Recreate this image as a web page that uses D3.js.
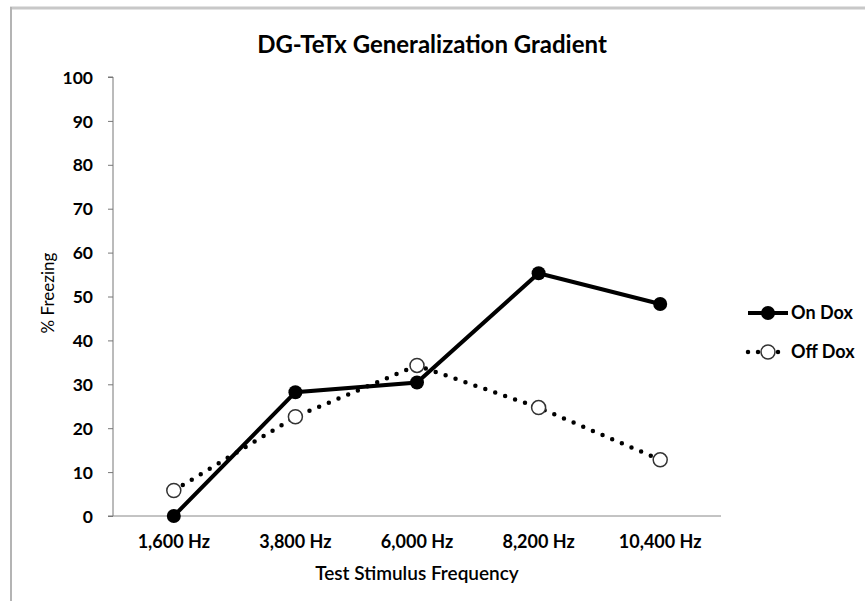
<!DOCTYPE html>
<html>
<head>
<meta charset="utf-8">
<script src="https://cdn.jsdelivr.net/npm/d3@7"></script>
<style>
  body { margin: 0; background: #fff; }
  text { font-family: Lato, "Open Sans", sans-serif; fill: #000; }
</style>
</head>
<body>
<div id="chart"></div>
<script>
var categories = ["1,600 Hz", "3,800 Hz", "6,000 Hz", "8,200 Hz", "10,400 Hz"];
var onDox = [0, 28.2, 30.4, 55.3, 48.3];
var offDox = [5.8, 22.6, 34.3, 24.7, 12.8];
var yTicks = [0, 10, 20, 30, 40, 50, 60, 70, 80, 90, 100];

var width = 865, height = 601;
var plotLeft = 113, plotRight = 721, plotTop = 77, plotBottom = 516;

var svg = d3.select("#chart").append("svg")
    .attr("width", width)
    .attr("height", height);

// frame lines of the original screenshot
svg.append("line")
    .attr("x1", 10).attr("x2", width)
    .attr("y1", 8).attr("y2", 8)
    .style("stroke", "#c8c8c8").style("stroke-width", 3);
svg.append("line")
    .attr("x1", 11).attr("x2", 11)
    .attr("y1", 7).attr("y2", height)
    .style("stroke", "#b4b4b4").style("stroke-width", 2);

var x = d3.scaleBand()
    .domain(categories)
    .range([plotLeft, plotRight]);

var y = d3.scaleLinear()
    .domain([0, 100])
    .range([plotBottom, plotTop]);

// y axis
var yAxis = svg.append("g")
    .attr("transform", "translate(" + plotLeft + ",0)")
    .call(d3.axisLeft(y).tickValues(yTicks).tickSize(5).tickPadding(15));
yAxis.select(".domain").attr("stroke", "#777").attr("d", "M-5," + plotTop + "H0V" + plotBottom + "H-5");
yAxis.selectAll(".tick line").attr("stroke", "#777");
yAxis.selectAll(".tick text")
    .style("font-size", "17.5px")
    .style("font-weight", "bold")
    .attr("dy", "0.35em");

// x axis
var xAxis = svg.append("g")
    .attr("transform", "translate(0," + plotBottom + ")")
    .call(d3.axisBottom(x).tickSize(0).tickPadding(19));
xAxis.select(".domain").attr("stroke", "#888").attr("d", "M" + plotLeft + ",0H" + plotRight);
xAxis.selectAll(".tick text")
    .style("font-size", "18px")
    .style("font-weight", "bold");

// titles
svg.append("text")
    .attr("x", 432)
    .attr("y", 53)
    .attr("text-anchor", "middle")
    .style("font-size", "24px")
    .style("font-weight", "bold")
    .text("DG-TeTx Generalization Gradient");

svg.append("text")
    .attr("x", 417)
    .attr("y", 580)
    .attr("text-anchor", "middle")
    .style("font-size", "19px")
    .style("font-weight", "600")
    .text("Test Stimulus Frequency");

svg.append("text")
    .attr("transform", "translate(54,293) rotate(-90)")
    .attr("text-anchor", "middle")
    .style("font-size", "17px")
    .text("% Freezing");

var cx = function(d, i) { return x(categories[i]) + x.bandwidth() / 2; };

var line = d3.line()
    .x(function(d, i) { return cx(d, i); })
    .y(function(d) { return y(d); });

// Off Dox (dotted, open circles)
svg.append("path")
    .datum(offDox)
    .attr("d", line)
    .attr("fill", "none")
    .attr("stroke", "#000")
    .attr("stroke-width", 4.5)
    .attr("stroke-linecap", "round")
    .attr("stroke-dasharray", "0 10.5");

// On Dox (solid, filled circles)
svg.append("path")
    .datum(onDox)
    .attr("d", line)
    .attr("fill", "none")
    .attr("stroke", "#000")
    .attr("stroke-width", 4);

svg.selectAll(".off")
    .data(offDox)
    .enter().append("circle")
    .attr("class", "off")
    .attr("cx", cx)
    .attr("cy", function(d) { return y(d); })
    .attr("r", 7)
    .attr("fill", "#fff")
    .attr("stroke", "#333")
    .attr("stroke-width", 1.5);

svg.selectAll(".on")
    .data(onDox)
    .enter().append("circle")
    .attr("class", "on")
    .attr("cx", cx)
    .attr("cy", function(d) { return y(d); })
    .attr("r", 7)
    .attr("fill", "#000");

// legend
var legend = svg.append("g").attr("transform", "translate(748,313)");
legend.append("line")
    .attr("x1", 0).attr("x2", 40)
    .attr("stroke", "#000").attr("stroke-width", 4);
legend.append("circle").attr("cx", 20).attr("r", 7).attr("fill", "#000");
legend.append("text")
    .attr("x", 43).attr("dy", "0.35em")
    .style("font-size", "18px").style("font-weight", "bold")
    .text("On Dox");

var leg2 = svg.append("g").attr("transform", "translate(748,352)");
leg2.append("line")
    .attr("x1", 0).attr("x2", 40)
    .attr("stroke", "#000").attr("stroke-width", 4.5)
    .attr("stroke-linecap", "round")
    .attr("stroke-dasharray", "0 10");
leg2.append("circle").attr("cx", 20).attr("r", 7)
    .attr("fill", "#fff").attr("stroke", "#333").attr("stroke-width", 1.5);
leg2.append("text")
    .attr("x", 43).attr("dy", "0.35em")
    .style("font-size", "18px").style("font-weight", "bold")
    .text("Off Dox");
</script>
</body>
</html>
